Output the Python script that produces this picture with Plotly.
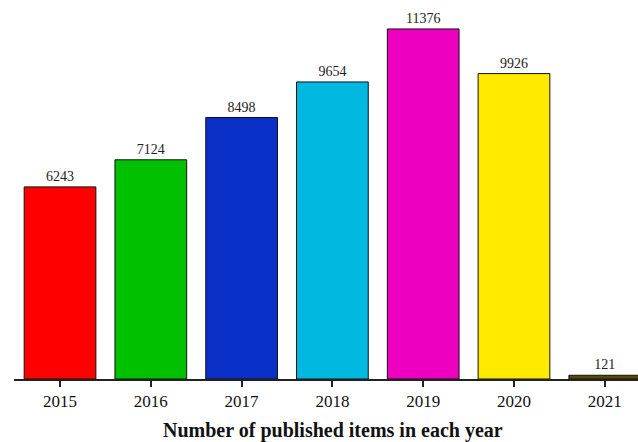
import plotly.graph_objects as go

years = ["2015", "2016", "2017", "2018", "2019", "2020", "2021"]
counts = [6243, 7124, 8498, 9654, 11376, 9926, 121]
colors = ["#FF0000", "#00C000", "#0A30C8", "#00B8E0", "#EE00C0", "#FFEA00", "#5A4800"]
title_text = "Number of published items in each year"

fig = go.Figure()
fig.add_trace(go.Bar(
    x=years, y=counts,
    marker=dict(color=colors, line=dict(color="#111111", width=1)),
    width=0.79,
    text=[str(c) for c in counts],
    textposition="outside",
    textfont=dict(family="Liberation Serif", size=14, color="#222222"),
    cliponaxis=False,
))

fig.update_layout(
    width=638, height=442,
    margin=dict(l=14, r=0, t=0, b=63),
    paper_bgcolor="white", plot_bgcolor="white",
    showlegend=False,
    bargap=0.2,
    xaxis=dict(
        type="category",
        range=[-0.507, 6.366],
        showline=True, linecolor="#222222", linewidth=1.5,
        ticks="outside", ticklen=6, tickwidth=1.5, tickcolor="#222222",
        tickfont=dict(family="Liberation Serif", size=17, color="#111111"),
        showgrid=False,
    ),
    yaxis=dict(
        range=[0, 12317],
        visible=False,
        showgrid=False,
    ),
    annotations=[dict(
        text="<b>" + title_text + "</b>",
        xref="paper", yref="paper",
        x=0.511, y=0, yshift=-51,
        xanchor="center", yanchor="middle",
        showarrow=False,
        font=dict(family="Liberation Serif", size=20, color="#111111"),
    )],
)

fig.write_html("out.html")
